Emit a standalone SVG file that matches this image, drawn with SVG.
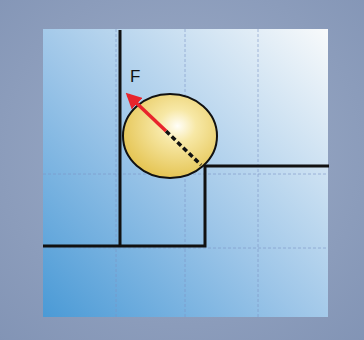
<svg xmlns="http://www.w3.org/2000/svg" width="364" height="340" viewBox="0 0 364 340">
<defs>
<radialGradient id="bg" cx="0.5" cy="0.45" r="0.75">
<stop offset="0" stop-color="#9eadc8"/>
<stop offset="1" stop-color="#8294b5"/>
</radialGradient>
<linearGradient id="panel" x1="0" y1="1" x2="1" y2="0">
<stop offset="0" stop-color="#4a9ad6"/>
<stop offset="0.45" stop-color="#9cc5e8"/>
<stop offset="1" stop-color="#f8fafb"/>
</linearGradient>
<radialGradient id="ball" cx="0.58" cy="0.38" r="0.65">
<stop offset="0" stop-color="#fffef8"/>
<stop offset="0.3" stop-color="#f7e8a6"/>
<stop offset="1" stop-color="#e4c350"/>
</radialGradient>
<marker id="ah" viewBox="0 0 10 10" refX="8" refY="5" markerWidth="4.5" markerHeight="4.5" orient="auto">
<path d="M0,0 L10,5 L0,10 z" fill="#e8242c"/>
</marker>
</defs>
<style>
.grid{stroke:#7d95c4;stroke-width:1;stroke-dasharray:3 2;opacity:0.6;fill:none}
.wall{stroke:#111;stroke-width:3;fill:none;stroke-linejoin:miter}
</style>
<rect x="0" y="0" width="364" height="340" fill="url(#bg)"/>
<rect x="43" y="29" width="285" height="288" fill="url(#panel)"/>
<g id="grid">
<line class="grid" x1="116" y1="29" x2="116" y2="317"/>
<line class="grid" x1="185" y1="29" x2="185" y2="317"/>
<line class="grid" x1="258" y1="29" x2="258" y2="317"/>
<line class="grid" x1="43" y1="174" x2="328" y2="174"/>
<line class="grid" x1="43" y1="248" x2="328" y2="248"/>
</g>
<g id="walls">
<path class="wall" d="M120,30 V246"/>
<path class="wall" d="M43,246 H205 V166 H329"/>
</g>
<g id="ball-node">
<ellipse cx="170" cy="136" rx="47" ry="42" fill="url(#ball)" stroke="#111" stroke-width="2"/>
</g>
<g id="connectors">
<line x1="166" y1="131" x2="201" y2="165" stroke="#111" stroke-width="3.5" stroke-dasharray="5 3"/>
<line x1="166" y1="131" x2="128" y2="95" stroke="#e8242c" stroke-width="3.5" marker-end="url(#ah)"/>
</g>
<g id="label-F">
<text x="130" y="82" font-family="Liberation Sans, Arial, sans-serif" font-size="17" fill="#111">F</text>
</g>
</svg>
